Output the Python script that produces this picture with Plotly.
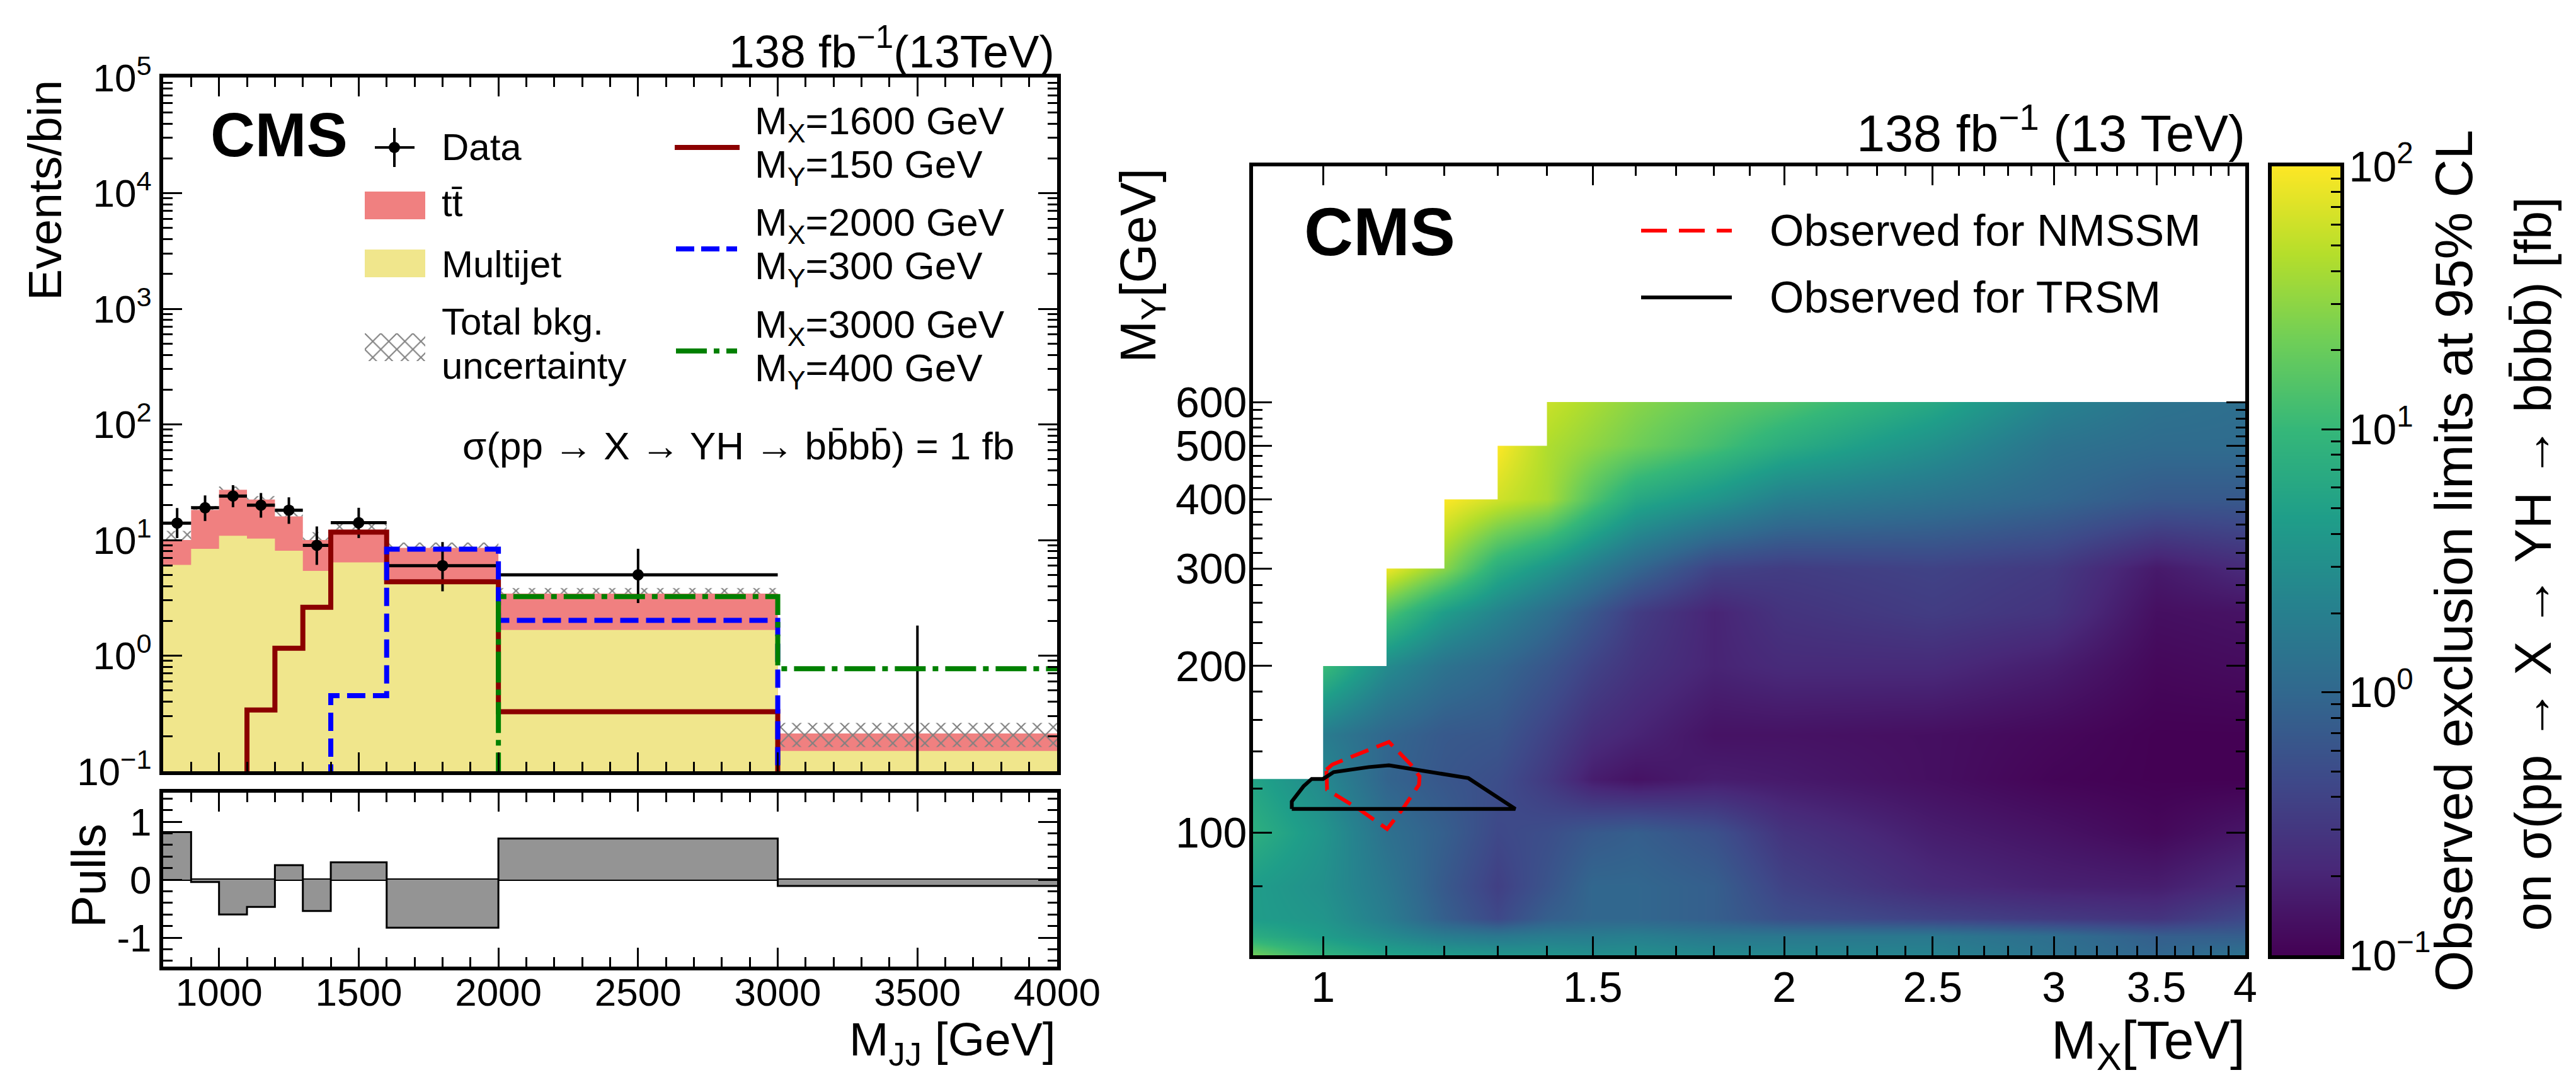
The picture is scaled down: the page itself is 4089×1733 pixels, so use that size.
import numpy as np
import plotly.graph_objects as go

# left panel, bins in GeV
bin_edges = [800, 900, 1000, 1100, 1200, 1300, 1400, 1600, 2000, 3000, 4000]
multijet = [6.1, 8.4, 10.9, 10.3, 8.07, 5.4, 6.4, 4.2, 1.67, 0.15]
total_bkg = [10, 18.2, 27.2, 22.4, 16, 10, 12.3, 8.55, 3.44, 0.212]
unc_low = [10, 18.2, 27.2, 22.4, 16, 10, 12.3, 8.55, 3.44, 0.162]
unc_high = [12, 19.7, 29.1, 24, 18.6, 11.7, 13.8, 9.5, 3.84, 0.262]

data_x = [850, 950, 1050, 1150, 1250, 1350, 1500, 1800, 2500]
data_halfwidth = [50, 50, 50, 50, 50, 50, 100, 200, 500]
data_y = [14, 19, 24, 20, 18.1, 9, 14.1, 6, 5]
data_up = [18.9, 24.3, 29.8, 25.5, 23.4, 13.1, 19, 9.6, 8.4]
data_down = [10.4, 14.6, 19.2, 15.6, 13.8, 6.1, 10.4, 3.6, 2.85]
empty_bin_x = 3500
empty_bin_up = 1.82

# signals, 0.001 means below the visible range
signal_1600 = [0.001, 0.001, 0.001, 0.339, 1.16, 2.62, 11.7, 4.35, 0.327, 0.001]
signal_2000 = [0.001, 0.001, 0.001, 0.001, 0.001, 0.001, 0.451, 8.34, 2.02, 0.001]
signal_3000 = [0.001, 0.001, 0.001, 0.001, 0.001, 0.001, 0.001, 0.001, 3.24, 0.771]

pulls = [0.82, -0.04, -0.6, -0.47, 0.25, -0.54, 0.30, -0.83, 0.71, -0.11]

# right panel, log10 of the limit in fb
mx_tev = [0.9, 1.0, 1.1, 1.2, 1.3, 1.4, 1.5, 1.6, 1.8, 2.0, 2.5, 3.0, 3.5, 4.0]
my_gev = [60, 65, 70, 80, 100, 125, 150, 200, 250, 300, 400, 500, 600]
lim_60 = [1.34, .95, .74, .65, .59, .56, .50, .50, .44, .41, .35, .14, -.01, .14]
lim_65 = [.86, .65, .44, .26, .20, .26, .26, .29, .20, .20, .20, .08, -.10, -.10]
lim_70 = [.65, .56, .26, -.10, -.34, -.10, -.01, -.01, -.10, -.28, -.40, -.49, -.55, -.34]
lim_80 = [.65, .50, .20, -.16, -.43, -.22, -.01, -.01, -.10, -.40, -.64, -.73, -.76, -.61]
lim_100 = [.89, .56, .11, -.10, -.34, -.28, -.16, -.10, -.25, -.55, -.76, -.85, -.94, -.82]
lim_125 = [.74, .41, -.04, -.19, -.28, -.49, -.76, -.85, -.76, -.79, -.88, -.97, -1, -1]
lim_150 = [.8, .26, -.01, -.16, -.19, -.40, -.61, -.70, -.85, -.85, -.88, -.94, -1, -1]
lim_200 = [1.4, 1.04, .44, .14, -.01, -.19, -.40, -.55, -.70, -.64, -.64, -.76, -.94, -.91]
lim_250 = [1.7, 1.55, 1.16, .65, .35, .08, -.19, -.46, -.70, -.55, -.46, -.55, -.88, -.85]
lim_300 = [1.94, 1.94, 1.94, 1.46, .86, .56, .26, -.01, -.40, -.46, -.40, -.49, -.79, -.64]
lim_400 = [1.94, 1.94, 2, 2, 1.79, 1.61, 1.16, .80, .56, .29, .14, -.01, -.16, -.16]
lim_500 = [1.94, 1.94, 1.94, 2, 2, 1.64, 1.49, 1.34, 1.10, .86, .50, .14, .05, .05]
lim_600 = [1.94, 1.94, 1.94, 1.94, 1.91, 1.76, 1.61, 1.46, 1.28, 1.16, .80, .35, .14, .08]

# no mass points above these steps
stair_x = [0.9, 1.0, 1.1, 1.2, 1.3, 1.4]
stair_y = [125, 200, 300, 400, 500, 600]

nmssm_x = [1.005, 1.014, 1.046, 1.104, 1.141, 1.156, 1.155, 1.127, 1.101, 1.055, 1.006, 1.005]
nmssm_y = [129.9, 132.7, 137.4, 145.8, 132.7, 126.3, 122, 110.3, 101.5, 110.3, 119.5, 129.9]
trsm_x = [0.954, 0.954, 0.971, 0.983, 1.0, 1.016, 1.071, 1.104, 1.15, 1.244, 1.335, 0.954]
trsm_y = [110.3, 113.8, 121.2, 125, 125, 128.6, 131.3, 132.3, 129.9, 125.4, 110.3, 110.3]

W, H = 4089, 1733
FONT = "Liberation Sans"


def px(x):
    return x / W


def py(y):
    return 1 - y / H


def steps(vals):
    return vals + [vals[-1]]


hatch = dict(shape="x", size=18, solidity=0.22, fgcolor="#808080", bgcolor="rgba(0,0,0,0)", fillmode="replace")

fig = go.Figure()

# main left panel
fig.add_trace(go.Scatter(x=bin_edges, y=steps(total_bkg), mode="lines", fill="tozeroy", fillcolor="#f08080",
                         line=dict(width=0, shape="hv", color="#f08080"), xaxis="x", yaxis="y"))
fig.add_trace(go.Scatter(x=bin_edges, y=steps(multijet), mode="lines", fill="tozeroy", fillcolor="#f0e68c",
                         line=dict(width=0, shape="hv", color="#f0e68c"), xaxis="x", yaxis="y"))
# one closed box per bin for the uncertainty band
band_x = []
band_y = []
for i in range(len(unc_low)):
    a, b = bin_edges[i], bin_edges[i + 1]
    band_x += [a, b, b, a, a, None]
    band_y += [unc_low[i], unc_low[i], unc_high[i], unc_high[i], unc_low[i], None]
fig.add_trace(go.Scatter(x=band_x, y=band_y, mode="lines", fill="toself", fillcolor="rgba(0,0,0,0)", fillpattern=hatch,
                         line=dict(width=0, color="#808080"), xaxis="x", yaxis="y"))
fig.add_trace(go.Scatter(x=data_x, y=data_y, mode="markers", marker=dict(color="black", size=18),
                         error_x=dict(type="data", array=data_halfwidth, color="black", thickness=5, width=0),
                         error_y=dict(type="data", symmetric=False,
                                      array=[u - v for u, v in zip(data_up, data_y)],
                                      arrayminus=[v - d for v, d in zip(data_y, data_down)],
                                      color="black", thickness=4, width=0),
                         xaxis="x", yaxis="y"))
fig.add_trace(go.Scatter(x=[empty_bin_x, empty_bin_x], y=[0.001, empty_bin_up], mode="lines",
                         line=dict(color="black", width=4), xaxis="x", yaxis="y"))
fig.add_trace(go.Scatter(x=bin_edges, y=steps(signal_1600), mode="lines", line=dict(color="#8b0000", width=8, shape="hv"),
                         xaxis="x", yaxis="y"))
fig.add_trace(go.Scatter(x=bin_edges, y=steps(signal_2000), mode="lines",
                         line=dict(color="#0000ff", width=8, shape="hv", dash="29px,12px"), xaxis="x", yaxis="y"))
fig.add_trace(go.Scatter(x=bin_edges, y=steps(signal_3000), mode="lines",
                         line=dict(color="#008000", width=8, shape="hv", dash="49px,11px,9px,11px"), xaxis="x", yaxis="y"))

# pulls
fig.add_trace(go.Scatter(x=bin_edges, y=steps(pulls), mode="lines", fill="tozeroy", fillcolor="#949494",
                         line=dict(color="black", width=3, shape="hv"), xaxis="x2", yaxis="y2"))

# limit map, white mask on top for the part without mass points
fig.add_trace(go.Heatmap(x=mx_tev, y=my_gev,
                         z=[lim_60, lim_65, lim_70, lim_80, lim_100, lim_125, lim_150, lim_200, lim_250, lim_300,
                            lim_400, lim_500, lim_600],
                         coloraxis="coloraxis", zsmooth="best", xaxis="x3", yaxis="y3"))
mask_x = [4, 4]
mask_y = [1600, stair_y[-1]]
for i in range(len(stair_x) - 1, -1, -1):
    mask_x += [stair_x[i], stair_x[i]]
    mask_y += [stair_y[i], stair_y[i - 1] if i > 0 else 1600]
fig.add_trace(go.Scatter(x=mask_x, y=mask_y, mode="lines", fill="toself", fillcolor="white", line=dict(width=0, color="white"),
                         xaxis="x3", yaxis="y3"))
fig.add_trace(go.Scatter(x=nmssm_x, y=nmssm_y, mode="lines", line=dict(color="#ff0000", width=6, dash="30px,14px"),
                         xaxis="x3", yaxis="y3"))
fig.add_trace(go.Scatter(x=trsm_x, y=trsm_y, mode="lines", line=dict(color="black", width=6), xaxis="x3", yaxis="y3"))

# colour scale drawn on its own log axis so it can have minor ticks
cb_levels = np.logspace(-1, 2, 256)
fig.add_trace(go.Heatmap(x=[0, 1], y=cb_levels, z=[[v, v] for v in np.log10(cb_levels)], coloraxis="coloraxis",
                         zsmooth="best", xaxis="x4", yaxis="y4"))

# hatch swatch for the legend
fig.add_trace(go.Bar(x=[0.5], y=[1], width=[1], marker=dict(color="rgba(0,0,0,0)", line_width=0, pattern=hatch),
                     xaxis="x5", yaxis="y5"))


def decade_minors(lo, hi):
    return [m * 10.0 ** e for e in range(lo, hi) for m in range(2, 10)]


def minor(vals):
    return dict(ticks="inside", ticklen=15, tickwidth=3, tickcolor="black", tickmode="array", tickvals=vals, showgrid=False)


frame = dict(showline=True, linecolor="black", linewidth=6, mirror="allticks", ticks="inside", ticklen=30, tickwidth=3,
             tickcolor="black", showgrid=False, zeroline=False)
mass_minor = [v for v in range(800, 4001, 100) if v % 500 != 0]
x_mx_ticks = [1, 1.5, 2, 2.5, 3, 3.5, 4]
x_mx_minor = [round(v * 0.1, 1) for v in range(11, 40) if v % 5 != 0]
y_my_ticks = [100, 200, 300, 400, 500, 600]
y_my_minor = [80, 120, 140, 160, 180] + [v for v in range(220, 600, 20) if v % 100 != 0]
pull_minor = [round(-1.4 + 0.2 * i, 1) for i in range(15) if i not in (2, 7, 12)]

fig.update_layout(
    width=W, height=H, margin=dict(l=0, r=0, t=0, b=0, autoexpand=False), showlegend=False, barmode="overlay",
    paper_bgcolor="white", plot_bgcolor="rgba(0,0,0,0)", font=dict(family=FONT, color="black", size=62),
    coloraxis=dict(colorscale="Viridis", cmin=-1, cmax=2, showscale=False),
    xaxis=dict(frame, domain=[px(259), px(1678)], range=[800, 4000], tick0=1000, dtick=500, showticklabels=False,
               minor=minor(mass_minor), anchor="y"),
    yaxis=dict(frame, domain=[py(1224), py(123)], type="log", range=[-1, 5],
               tickmode="array", tickvals=[0.1, 1, 10, 100, 1000, 10000, 100000],
               ticktext=["10<sup>−1</sup>", "10<sup>0</sup>", "10<sup>1</sup>", "10<sup>2</sup>", "10<sup>3</sup>",
                         "10<sup>4</sup>", "10<sup>5</sup>"],
               minor=minor(decade_minors(-1, 5)), anchor="x"),
    xaxis2=dict(frame, domain=[px(259), px(1678)], range=[800, 4000], tick0=1000, dtick=500,
                minor=minor(mass_minor), anchor="y2", ticklabelstandoff=-18),
    yaxis2=dict(frame, domain=[py(1534), py(1258)], range=[-1.5, 1.5], tickmode="array", tickvals=[-1, 0, 1],
                ticktext=["-1", "0", "1"], minor=minor(pull_minor), anchor="x2",
                zeroline=True, zerolinecolor="black", zerolinewidth=4),
    xaxis3=dict(frame, domain=[px(1989), px(3564)], type="log", range=[np.log10(0.9), np.log10(4)], tickmode="array",
                tickvals=x_mx_ticks, ticktext=["1", "1.5", "2", "2.5", "3", "3.5", "4"], minor=minor(x_mx_minor),
                tickfont=dict(size=68), anchor="y3", ticklabelstandoff=-14),
    yaxis3=dict(frame, domain=[py(1516), py(264)], type="log", range=[np.log10(60), np.log10(1600)], tickmode="array",
                tickvals=y_my_ticks, ticktext=[str(v) for v in y_my_ticks], minor=minor(y_my_minor),
                tickfont=dict(size=68), anchor="x3", ticklabelstandoff=-10),
    xaxis4=dict(domain=[px(3606), px(3715)], range=[0, 1], showline=True, linecolor="black", linewidth=6, mirror=True,
                ticks="", showticklabels=False, showgrid=False, zeroline=False, anchor="y4"),
    yaxis4=dict(domain=[py(1516), py(264)], type="log", range=[-1, 2], side="right", showline=True, linecolor="black",
                linewidth=6, mirror=True, ticks="inside", ticklen=30, tickwidth=3, tickcolor="black", showgrid=False,
                tickmode="array", tickvals=[0.1, 1, 10, 100],
                ticktext=["10<sup>−1</sup>", "10<sup>0</sup>", "10<sup>1</sup>", "10<sup>2</sup>"],
                minor=minor(decade_minors(-1, 2)), tickfont=dict(size=68), anchor="x4", ticklabelstandoff=-6),
    xaxis5=dict(domain=[px(579), px(675)], range=[0, 1], visible=False, anchor="y5"),
    yaxis5=dict(domain=[py(573), py(529)], range=[0, 1], visible=False, anchor="x5"),
)


def note(text, x, y, size, xanchor="left", yanchor="middle", angle=0):
    fig.add_annotation(text=text, x=px(x), y=py(y), xref="paper", yref="paper", showarrow=False, xanchor=xanchor,
                       yanchor=yanchor, textangle=angle, font=dict(size=size, family=FONT, color="black"))


def swatch_line(x0, x1, y, color, width, dash="solid"):
    fig.add_shape(type="line", xref="paper", yref="paper", x0=px(x0), x1=px(x1), y0=py(y), y1=py(y),
                  line=dict(color=color, width=width, dash=dash))


def swatch_box(x0, x1, y0, y1, color):
    fig.add_shape(type="rect", xref="paper", yref="paper", x0=px(x0), x1=px(x1), y0=py(y0), y1=py(y1),
                  fillcolor=color, line_width=0)


# left panel texts
note("138 fb<sup>−1</sup>(13TeV)", 1676, 76, 73, xanchor="right")
note("<b>CMS</b>", 332, 214, 98)
note("Data", 699, 234, 60)
note("tt\u0304", 699, 322, 60)
note("Multijet", 699, 419, 60)
note("Total bkg.", 699, 511, 60)
note("uncertainty", 699, 581, 60)
for y_x, y_y, mx, my in [(196, 265, 1600, 150), (357, 426, 2000, 300), (519, 588, 3000, 400)]:
    note("M<sub>X</sub>=%d GeV" % mx, 1196, y_x, 62)
    note("M<sub>Y</sub>=%d GeV" % my, 1196, y_y, 62)
note("σ(pp → X → YH → bb\u0304bb\u0304) = 1 fb", 1612, 708, 62, xanchor="right")
note("Events/bin", 71, 125, 75, xanchor="center", yanchor="top", angle=-90)
note("Pulls", 140, 1390, 76, xanchor="center", angle=-90)
note("M<sub>JJ</sub> [GeV]", 1678, 1654, 75, xanchor="right")

fig.add_shape(type="line", xref="paper", yref="paper", x0=px(626), x1=px(626), y0=py(203), y1=py(265),
              line=dict(color="black", width=4))
swatch_line(595, 658, 234, "black", 4)
fig.add_shape(type="circle", xref="paper", yref="paper", x0=px(617), x1=px(635), y0=py(243), y1=py(225),
              fillcolor="black", line_width=0)
swatch_box(579, 675, 304, 348, "#f08080")
swatch_box(579, 675, 396, 440, "#f0e68c")
swatch_line(1071, 1174, 234, "#8b0000", 8)
swatch_line(1073, 1170, 395, "#0000ff", 8, "29px,11px")
swatch_line(1073, 1170, 557, "#008000", 8, "49px,11px,9px,11px")

# right panel texts
note("138 fb<sup>−1</sup> (13 TeV)", 3566, 206, 81, xanchor="right")
note("<b>CMS</b>", 2068, 367, 108)
note("Observed for NMSSM", 2807, 366, 70)
note("Observed for TRSM", 2807, 472, 70)
swatch_line(2605, 2749, 366, "#ff0000", 6, "41px,19px")
swatch_line(2605, 2749, 472, "black", 6)
note("M<sub>Y</sub>[GeV]", 1812, 265, 80, xanchor="center", yanchor="top", angle=-90)
note("M<sub>X</sub>[TeV]", 3566, 1656, 86, xanchor="right")
note("Observed exclusion limits at 95% CL", 3895, 204, 84, xanchor="center", yanchor="top", angle=-90)
note("on σ(pp → X → YH → bb\u0304bb\u0304) [fb]", 4020, 311, 81, xanchor="center", yanchor="top", angle=-90)

fig.write_html("out.html", config={"displayModeBar": False}, post_script="document.body.style.margin='0';")
